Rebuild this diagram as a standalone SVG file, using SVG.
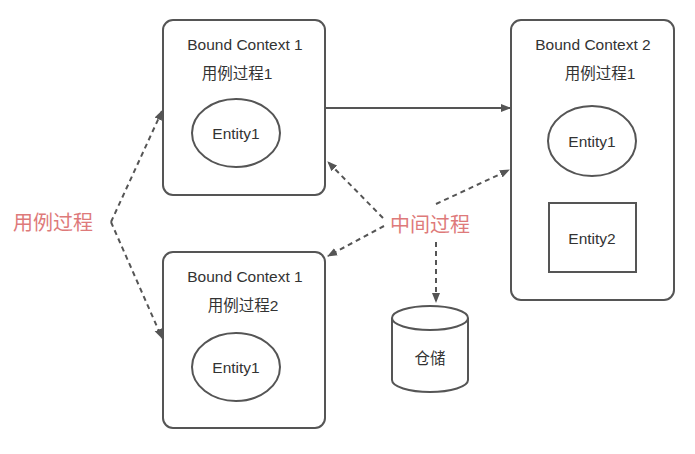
<svg xmlns="http://www.w3.org/2000/svg" width="695" height="454" viewBox="0 0 695 454">
<defs>
<style>
.box{fill:#fff;stroke:#555;stroke-width:2}
.ent{fill:#fff;stroke:#555;stroke-width:2}
.t{font-family:"Liberation Sans","Noto Sans CJK SC",sans-serif;font-size:15.5px;fill:#333;text-anchor:middle}
.red{font-family:"Noto Sans CJK SC",sans-serif;font-size:20px;fill:#de7a7a;text-anchor:middle}
.solid{stroke:#555;stroke-width:2;fill:none}
.dash{stroke:#555;stroke-width:2;fill:none;stroke-dasharray:5 4}
</style>
<marker id="ah" markerWidth="10" markerHeight="10" refX="9" refY="5" orient="auto" markerUnits="userSpaceOnUse">
<path d="M0,1 L10,5 L0,9 Z" fill="#555"/>
</marker>
</defs>
<rect width="695" height="454" fill="#fff"/>
<g id="bc1">
<rect class="box" x="163" y="20" width="162" height="175" rx="10"/>
<text class="t" x="245" y="50">Bound Context 1</text>
<text class="t" x="237" y="79">用例过程1</text>
<ellipse class="ent" cx="236" cy="133" rx="44" ry="34"/>
<text class="t" x="236" y="139">Entity1</text>
</g>
<g id="bc2">
<rect class="box" x="511" y="20" width="163" height="280" rx="10"/>
<text class="t" x="593" y="50">Bound Context 2</text>
<text class="t" x="600" y="79">用例过程1</text>
<ellipse class="ent" cx="592" cy="141" rx="44" ry="35"/>
<text class="t" x="592" y="147">Entity1</text>
<rect class="ent" x="549" y="203" width="87" height="69"/>
<text class="t" x="592" y="244">Entity2</text>
</g>
<g id="bc3">
<rect class="box" x="163" y="252" width="162" height="176" rx="10"/>
<text class="t" x="245" y="282">Bound Context 1</text>
<text class="t" x="243" y="311">用例过程2</text>
<ellipse class="ent" cx="236" cy="367" rx="44" ry="34"/>
<text class="t" x="236" y="373">Entity1</text>
</g>
<g id="store">
<path class="ent" d="M392,318 L392,380 A38,12 0 0 0 468,380 L468,318 A38,12 0 0 0 392,318 Z"/>
<path class="ent" d="M392,318 A38,12 0 0 0 468,318"/>
<text class="t" x="430" y="364">仓储</text>
</g>
<g id="lbl-usecase">
<text class="red" x="53" y="230">用例过程</text>
</g>
<g id="lbl-middle">
<text class="red" x="430" y="232">中间过程</text>
</g>
<g id="connectors">
<line class="solid" x1="326" y1="108" x2="510" y2="108" marker-end="url(#ah)"/>
<line class="dash" x1="111" y1="222" x2="162" y2="111" marker-end="url(#ah)"/>
<line class="dash" x1="111" y1="222" x2="162" y2="338" marker-end="url(#ah)"/>
<line class="dash" x1="383" y1="218" x2="328" y2="162" marker-end="url(#ah)"/>
<line class="dash" x1="384" y1="226" x2="328" y2="256" marker-end="url(#ah)"/>
<line class="dash" x1="436" y1="204" x2="509" y2="170" marker-end="url(#ah)"/>
<line class="dash" x1="436" y1="242" x2="436" y2="302" marker-end="url(#ah)"/>
</g>
</svg>
